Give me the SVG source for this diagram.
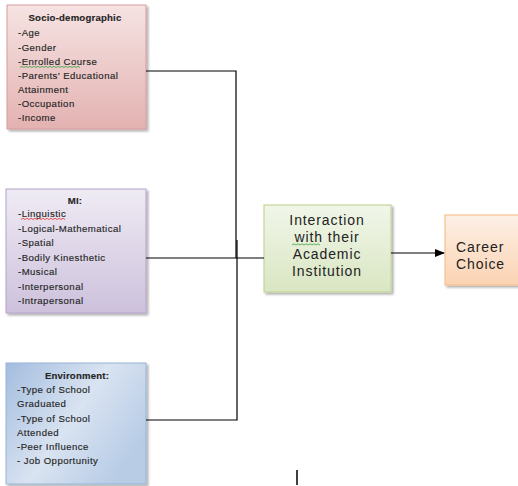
<svg xmlns="http://www.w3.org/2000/svg" width="518" height="486" viewBox="0 0 518 486">
<defs>
<linearGradient id="gPink" x1="0" y1="0" x2="0" y2="1"><stop offset="0" stop-color="#f6e3e3"/><stop offset="1" stop-color="#e3b2b1"/></linearGradient>
<linearGradient id="gLav" x1="0" y1="0" x2="0" y2="1"><stop offset="0" stop-color="#efebf4"/><stop offset="1" stop-color="#cdc1dc"/></linearGradient>
<linearGradient id="gBlue" x1="0" y1="0" x2="1" y2="0.6"><stop offset="0" stop-color="#a3bddf"/><stop offset="0.55" stop-color="#d9e3f1"/><stop offset="1" stop-color="#b8cce6"/></linearGradient>
<linearGradient id="gGreen" x1="0" y1="0" x2="0" y2="1"><stop offset="0" stop-color="#f1f6e9"/><stop offset="1" stop-color="#d9e6c2"/></linearGradient>
<linearGradient id="gOrange" x1="0" y1="0" x2="0" y2="1"><stop offset="0" stop-color="#fdf0e6"/><stop offset="1" stop-color="#fbd3b3"/></linearGradient>
<marker id="arr" markerWidth="10" markerHeight="8" refX="9" refY="4" orient="auto" markerUnits="userSpaceOnUse"><path d="M0,0 L10,4 L0,8 z" fill="#000"/></marker>
<filter id="sh" x="-10%" y="-10%" width="125%" height="125%"><feDropShadow dx="2" dy="2" stdDeviation="1" flood-color="#000" flood-opacity="0.3"/></filter>
</defs>
<style>
.t{font-family:"Liberation Sans",Arial,sans-serif;font-size:9.6px;fill:#262626;letter-spacing:0.45px;stroke:#262626;stroke-width:0.15}
.b{font-weight:bold;text-anchor:middle;letter-spacing:0.2px}
.big{font-family:"Liberation Sans",Arial,sans-serif;font-size:14px;fill:#222;letter-spacing:0.9px}
.c{fill:none;stroke:#000;stroke-width:1.2}
.sq{fill:none;stroke-width:0.8}
</style>
<g id="socio">
<rect x="7" y="5" width="139" height="124" fill="url(#gPink)" stroke="#d69b99" stroke-width="1" filter="url(#sh)"/>
<text class="t b" x="75" y="21">Socio-demographic</text>
<text class="t" x="18" y="36">-Age</text>
<text class="t" x="18" y="51">-Gender</text>
<text class="t" x="18" y="65">-Enrolled Course</text>
<path class="sq" stroke="#3aa13a" d="M20,67.5 l2,-1.2 l2,1.2 l2,-1.2 l2,1.2 l2,-1.2 l2,1.2 l2,-1.2 l2,1.2 l2,-1.2 l2,1.2 l2,-1.2 l2,1.2 l2,-1.2 l2,1.2 l2,-1.2 l2,1.2 l2,-1.2 l2,1.2 l2,-1.2 l2,1.2 l2,-1.2 l2,1.2 l2,-1.2 l2,1.2 l2,-1.2 l2,1.2 l2,-1.2 l2,1.2 l2,-1.2 l2,1.2"/>
<text class="t" x="18" y="79">-Parents’ Educational</text>
<text class="t" x="18" y="93">Attainment</text>
<text class="t" x="18" y="107">-Occupation</text>
<text class="t" x="18" y="121">-Income</text>
</g>
<g id="mi">
<rect x="6" y="189" width="140" height="124" fill="url(#gLav)" stroke="#b3a2c7" stroke-width="1" filter="url(#sh)"/>
<text class="t b" x="75" y="204">MI:</text>
<text class="t" x="18" y="217">-Linguistic</text>
<path class="sq" stroke="#e03030" d="M21,219.5 l2,-1.2 l2,1.2 l2,-1.2 l2,1.2 l2,-1.2 l2,1.2 l2,-1.2 l2,1.2 l2,-1.2 l2,1.2 l2,-1.2 l2,1.2 l2,-1.2 l2,1.2 l2,-1.2 l2,1.2 l2,-1.2 l2,1.2 l2,-1.2 l2,1.2 l2,-1.2 l2,1.2"/>
<text class="t" x="18" y="232">-Logical-Mathematical</text>
<text class="t" x="18" y="246">-Spatial</text>
<text class="t" x="18" y="261">-Bodily Kinesthetic</text>
<text class="t" x="18" y="275">-Musical</text>
<text class="t" x="18" y="290">-Interpersonal</text>
<text class="t" x="18" y="304">-Intrapersonal</text>
</g>
<g id="environment">
<rect x="6" y="363" width="140" height="121" fill="url(#gBlue)" stroke="#95b3d7" stroke-width="1" filter="url(#sh)"/>
<text class="t b" x="77" y="379">Environment:</text>
<text class="t" x="17" y="393">-Type of School</text>
<text class="t" x="17" y="407">Graduated</text>
<text class="t" x="17" y="422">-Type of School</text>
<text class="t" x="17" y="436">Attended</text>
<text class="t" x="17" y="450">-Peer Influence</text>
<text class="t" x="17" y="464">- Job Opportunity</text>
</g>
<g id="interaction">
<rect x="264" y="205" width="127" height="87" fill="url(#gGreen)" stroke="#c3d69b" stroke-width="1.2" filter="url(#sh)"/>
<text class="big" x="327" y="225" text-anchor="middle">Interaction</text>
<text class="big" x="327" y="242" text-anchor="middle">with their</text>
<path class="sq" stroke="#3aa13a" d="M292,245 l2,-1.2 l2,1.2 l2,-1.2 l2,1.2 l2,-1.2 l2,1.2 l2,-1.2 l2,1.2 l2,-1.2 l2,1.2 l2,-1.2 l2,1.2 l2,-1.2 l2,1.2"/>
<text class="big" x="327" y="259" text-anchor="middle">Academic</text>
<text class="big" x="327" y="276" text-anchor="middle">Institution</text>
</g>
<g id="career">
<rect x="445" y="215" width="78" height="70" fill="url(#gOrange)" stroke="#f9c08f" stroke-width="1.2" filter="url(#sh)"/>
<text class="big" x="456" y="252">Career</text>
<text class="big" x="456" y="269">Choice</text>
</g>
<g id="connectors">
<polyline class="c" points="146,71 236,71 236,258"/>
<line class="c" x1="146" y1="258" x2="264" y2="258"/>
<polyline class="c" points="237,240 237,420 146,420" stroke="#444"/>
<line class="c" x1="391" y1="253" x2="444" y2="253" marker-end="url(#arr)"/>
</g>
<line x1="297" y1="470" x2="297" y2="485" stroke="#000" stroke-width="1.5"/>
</svg>
